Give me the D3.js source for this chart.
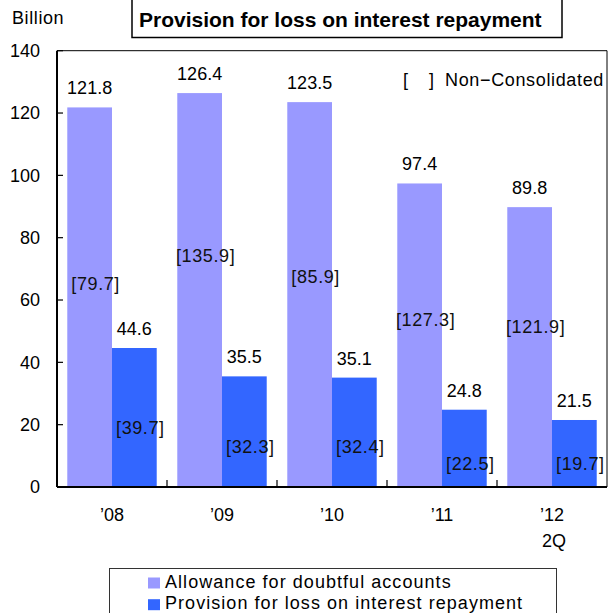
<!DOCTYPE html>
<html>
<head>
<meta charset="utf-8">
<script src="https://cdn.jsdelivr.net/npm/d3@7"></script>
<style>
  body { margin: 0; background: #fff; }
  svg { font-family: "Liberation Sans", Arial, sans-serif; }
</style>
</head>
<body>
<div id="chart"></div>
<script>
// chart data
const years = ["’08", "’09", "’10", "’11", "’12"];
const yearSub = ["", "", "", "", "2Q"];
const seriesNames = ["Allowance for doubtful accounts", "Provision for loss on interest repayment"];
const allowance = [121.8, 126.4, 123.5, 97.4, 89.8];
const provision = [44.6, 35.5, 35.1, 24.8, 21.5];
const allowanceNonCons = [79.7, 135.9, 85.9, 127.3, 121.9];
const provisionNonCons = [39.7, 32.3, 32.4, 22.5, 19.7];
const yTicks = [0, 20, 40, 60, 80, 100, 120, 140];

const colors = ["#9999FF", "#3366FF"];

// where the [ ] labels sit (in value units, baseline)
const allowanceLabelAt = [63.2, 72.3, 65.4, 51.7, 49.3];
const provisionLabelAt = [17.0, 11.0, 10.8, 5.5, 5.5];

const width = 610, height = 613;
const margin = { left: 57, right: 3, top: 50.7, bottom: 126 };

const svg = d3.select("#chart").append("svg")
  .attr("width", width).attr("height", height);

const x = d3.scaleBand()
  .domain(years)
  .range([margin.left, width - margin.right])
  .padding(0);

const xSub = d3.scaleBand()
  .domain([0, 1])
  .range([0, x.bandwidth()])
  .paddingInner(0)
  .paddingOuter(0.23);

const y = d3.scaleLinear()
  .domain([0, 140])
  .range([height - margin.bottom, margin.top]);

const rows = years.map((yr, i) => ({
  year: yr, sub: yearSub[i],
  vals: [allowance[i], provision[i]],
  nc: [allowanceNonCons[i], provisionNonCons[i]],
  at: [allowanceLabelAt[i], provisionLabelAt[i]],
}));

// bars
const g = svg.selectAll("g.year").data(rows).join("g")
  .attr("class", "year")
  .attr("transform", (d) => `translate(${x(d.year)},0)`);

g.selectAll("rect")
  .data((d) => d.vals.map((v, k) => ({ v, k })))
  .join("rect")
  .attr("x", (d) => xSub(d.k))
  .attr("width", xSub.bandwidth())
  .attr("y", (d) => y(d.v))
  .attr("height", (d) => y(0) - y(d.v))
  .attr("fill", (d) => colors[d.k]);

// value labels on top
g.selectAll("text.val")
  .data((d) => d.vals.map((v, k) => ({ v, k })))
  .join("text")
  .attr("class", "val")
  .attr("x", (d) => xSub(d.k) + xSub.bandwidth() / 2)
  .attr("y", (d) => y(d.v) - 13)
  .attr("text-anchor", "middle")
  .attr("font-size", 18)
  .text((d) => d.v.toFixed(1));

// non-consolidated labels
g.selectAll("text.nc")
  .data((d) => d.nc.map((v, k) => ({ v, k, at: d.at[k] })))
  .join("text")
  .attr("class", "nc")
  .attr("x", (d) => xSub(d.k) + xSub.bandwidth() / 2 + 6)
  .attr("y", (d) => y(d.at))
  .attr("text-anchor", "middle")
  .attr("font-size", 18)
  .attr("letter-spacing", 0.6)
  .attr("fill", "#111")
  .text((d) => `[${d.v.toFixed(1)}]`);

// plot frame (top / right thin)
svg.append("path")
  .attr("d", `M${margin.left},${margin.top}H${width - margin.right}V${y(0)}`)
  .attr("fill", "none").attr("stroke", "#000").attr("stroke-width", 1);

// y axis
const yAxis = svg.append("g").attr("transform", `translate(${margin.left},0)`);
yAxis.append("line")
  .attr("y1", margin.top).attr("y2", y(0))
  .attr("stroke", "#000").attr("stroke-width", 2);
yAxis.selectAll("line.tick").data(yTicks).join("line")
  .attr("class", "tick")
  .attr("x1", 0).attr("x2", 6)
  .attr("y1", (d) => y(d)).attr("y2", (d) => y(d))
  .attr("stroke", "#000").attr("stroke-width", 1.2);
yAxis.selectAll("text").data(yTicks).join("text")
  .attr("x", -17).attr("y", (d) => y(d))
  .attr("dy", "0.35em")
  .attr("text-anchor", "end")
  .attr("font-size", 18)
  .text((d) => d);

// x axis
const xAxis = svg.append("g");
xAxis.append("line")
  .attr("x1", margin.left).attr("x2", width - margin.right)
  .attr("y1", y(0)).attr("y2", y(0))
  .attr("stroke", "#000").attr("stroke-width", 2);
xAxis.selectAll("line.tick").data(years.slice(1)).join("line")
  .attr("class", "tick")
  .attr("x1", (d) => x(d)).attr("x2", (d) => x(d))
  .attr("y1", y(0)).attr("y2", y(0) - 7)
  .attr("stroke", "#000").attr("stroke-width", 1.2);
const xl = xAxis.selectAll("text").data(rows).join("text")
  .attr("font-size", 18)
  .attr("text-anchor", "middle");
xl.append("tspan")
  .attr("x", (d) => x(d.year) + x.bandwidth() / 2)
  .attr("y", y(0) + 34)
  .text((d) => d.year);
xl.append("tspan")
  .attr("x", (d) => x(d.year) + x.bandwidth() / 2 + 2)
  .attr("y", y(0) + 60)
  .text((d) => d.sub);

// unit and note
svg.append("text").attr("x", 12).attr("y", 24)
  .attr("font-size", 18).attr("letter-spacing", 0.6).text("Billion");
svg.append("text").attr("x", 403).attr("y", 86)
  .attr("font-size", 18).text("[");
svg.append("text").attr("x", 429).attr("y", 86)
  .attr("font-size", 18).text("]");
svg.append("text").attr("x", 445).attr("y", 86)
  .attr("font-size", 18).attr("letter-spacing", 0.65).text("Non−Consolidated");

// title box
svg.append("rect")
  .attr("x", 132).attr("y", -2).attr("width", 430).attr("height", 39.5)
  .attr("fill", "#fff").attr("stroke", "#000").attr("stroke-width", 1.5);
svg.append("text").attr("x", 139).attr("y", 27)
  .attr("font-size", 21).attr("font-weight", "bold")
  .text("Provision for loss on interest repayment");

// legend
const lg = svg.append("g");
lg.append("rect")
  .attr("x", 109.5).attr("y", 568.5).attr("width", 447).attr("height", 60)
  .attr("fill", "#fff").attr("stroke", "#333").attr("stroke-width", 1);
const li = lg.selectAll("g").data(seriesNames).join("g")
  .attr("transform", (d, i) => `translate(148,${577.5 + i * 21.7})`);
li.append("rect").attr("width", 12).attr("height", 11)
  .attr("fill", (d, i) => colors[i]);
li.append("text").attr("x", 17).attr("y", 10)
  .attr("font-size", 18).attr("letter-spacing", 1.05).text((d) => d);
</script>
</body>
</html>
